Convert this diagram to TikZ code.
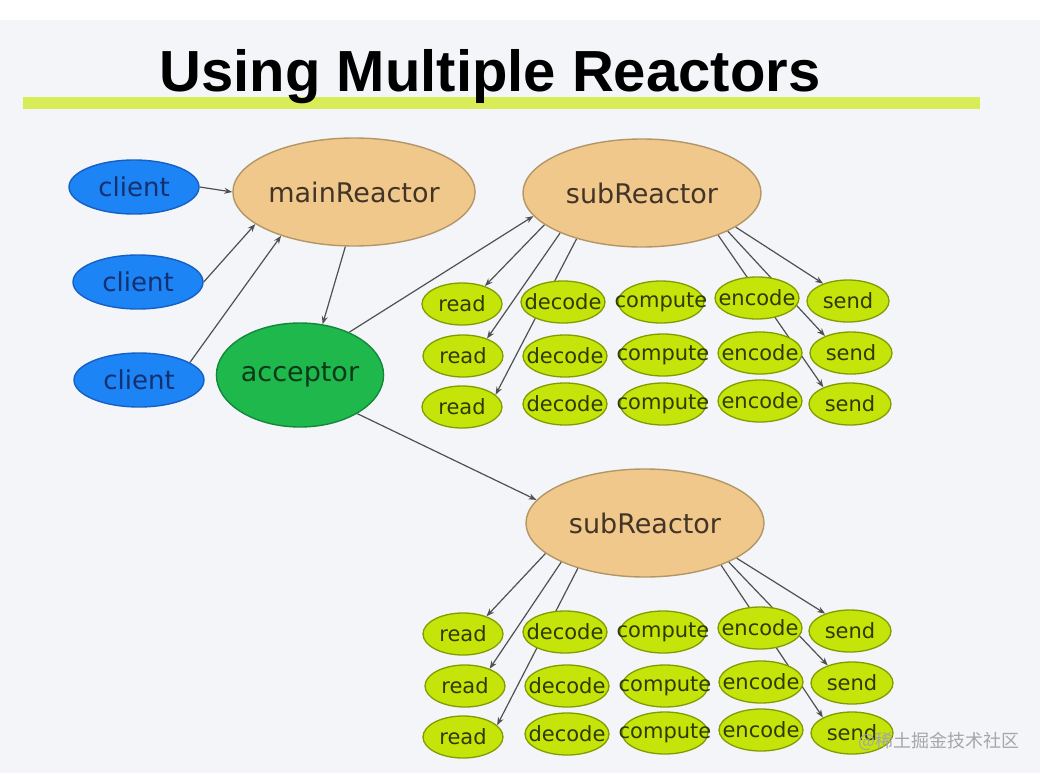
\documentclass[tikz,border=0pt]{standalone}
\usepackage{fontspec}
\setmainfont{DejaVu Sans}
\newfontfamily\titlefont{Liberation Sans}
\newfontfamily\cjkfont{Noto Sans CJK SC}
\usetikzlibrary{shapes.geometric,arrows.meta}
\pgfdeclarelayer{bg}\pgfdeclarelayer{edges}
\pgfsetlayers{bg,edges,main}
\definecolor{bgcol}{RGB}{243,245,249}
\definecolor{barcol}{RGB}{216,236,88}
\definecolor{bluefill}{RGB}{28,132,244}
\definecolor{blueline}{RGB}{22,96,196}
\definecolor{bluetext}{RGB}{20,48,110}
\definecolor{tanfill}{RGB}{240,200,140}
\definecolor{tanline}{RGB}{178,150,102}
\definecolor{tantext}{RGB}{66,52,38}
\definecolor{grnfill}{RGB}{30,184,76}
\definecolor{grnline}{RGB}{20,136,58}
\definecolor{grntext}{RGB}{12,58,24}
\definecolor{ygfill}{RGB}{196,228,10}
\definecolor{ygline}{RGB}{128,156,0}
\definecolor{ygtext}{RGB}{48,58,0}
\definecolor{arrcol}{RGB}{80,80,80}
\newcommand\zw[1]{\makebox[0pt]{#1}}
\begin{document}
\begin{tikzpicture}[x=1pt,y=-1pt,
  client/.style={ellipse,draw=blueline,line width=1.4pt,fill=bluefill,text=bluetext,
    minimum width=130pt,minimum height=54pt,inner sep=0pt,font=\fontsize{26}{30}\selectfont},
  reactor/.style={ellipse,draw=tanline,line width=1.4pt,fill=tanfill,text=tantext,
    minimum width=238pt,minimum height=108pt,inner sep=0pt,font=\fontsize{27}{31}\selectfont},
  accept/.style={ellipse,draw=grnline,line width=1.4pt,fill=grnfill,text=grntext,
    minimum width=166pt,minimum height=104pt,inner sep=0pt,font=\fontsize{27}{31}\selectfont},
  task/.style={ellipse,draw=ygline,line width=1.3pt,fill=ygfill,text=ygtext,
    minimum height=42pt,inner sep=0pt,font=\fontsize{21}{24}\selectfont},
  arr/.style={draw=arrcol,line width=1.2pt,-{Stealth[length=8pt,width=6pt]}}]
\begin{pgfonlayer}{bg}
\fill[bgcol] (0,0) rectangle (1040,773);
\fill[white] (0,0) rectangle (1040,20);
\end{pgfonlayer}
\useasboundingbox (0,0) rectangle (1040,773);
\fill[barcol] (23,97) rectangle (980,109);
\node[anchor=base,font=\titlefont\bfseries\fontsize{58}{64}\selectfont,text=black] (title) at (490,92) {Using Multiple Reactors};

\node[client] (c1) at (134,187) {client};
\node[client] (c2) at (138,282) {client};
\node[client] (c3) at (139,380) {client};
\node[reactor] (mr) at (354,192) {mainReactor};
\node[accept] (acc) at (300,375) {acceptor};
\node[reactor] (sr1) at (642,193) {subReactor};
\node[reactor] (sr2) at (645,523) {subReactor};

% top grid
\foreach \n/\x/\y in {1/462/304,2/463/356,3/462/407}
  \node[task,minimum width=80pt] (tr\n) at (\x,\y) {\zw{read}};
\foreach \n/\x/\y in {1/563/302,2/565/356,3/565/404}
  \node[task,minimum width=84pt] (td\n) at (\x,\y) {\zw{decode}};
\foreach \n/\x/\y in {1/661/302,2/663/355,3/663/404}
  \node[task,minimum width=86pt] (tc\n) at (\x,\y) {\zw{compute}};
\foreach \n/\x/\y in {1/757/298,2/760/353,3/760/401}
  \node[task,minimum width=84pt] (te\n) at (\x,\y) {\zw{encode}};
\foreach \n/\x/\y in {1/848/301,2/851/353,3/850/404}
  \node[task,minimum width=82pt] (ts\n) at (\x,\y) {\zw{send}};
% bottom grid
\foreach \n/\x/\y in {1/463/634,2/465/686,3/463/737}
  \node[task,minimum width=80pt] (br\n) at (\x,\y) {\zw{read}};
\foreach \n/\x/\y in {1/565/632,2/567/686,3/567/734}
  \node[task,minimum width=84pt] (bd\n) at (\x,\y) {\zw{decode}};
\foreach \n/\x/\y in {1/663/632,2/665/686,3/665/733}
  \node[task,minimum width=86pt] (bc\n) at (\x,\y) {\zw{compute}};
\foreach \n/\x/\y in {1/760/628,2/761/682,3/761/730}
  \node[task,minimum width=84pt] (be\n) at (\x,\y) {\zw{encode}};
\foreach \n/\x/\y in {1/850/631,2/852/683,3/852/733}
  \node[task,minimum width=82pt] (bs\n) at (\x,\y) {\zw{send}};

\node[font=\cjkfont\fontsize{18}{20}\selectfont,text=black!35] (wm) at (939,741) {@稀土掘金技术社区};

\begin{pgfonlayer}{edges}
\draw[arr] (c1.east) -- (mr.west);
\draw[arr] (c2.east) -- (mr.198);
\draw[arr] (c3.19) -- (mr.211);
\draw[arr] (mr.261) -- (acc.66);
\draw[arr] (acc.41) -- (sr1.192);
\draw[arr] (acc.326) -- (sr2.168);
\draw[arr] (sr1.198) -- (tr1.38);
\draw[arr] (sr1.206) -- (tr2.36);
\draw[arr] (sr1.215) -- (tr3.20);
\draw[arr] (sr1.340) -- (ts1.145);
\draw[arr] (sr1.336) -- (ts2.147);
\draw[arr] (sr1.331) -- (ts3.148);
\draw[arr] (sr2.197) -- (br1.37);
\draw[arr] (sr2.205) -- (br2.35);
\draw[arr] (sr2.214) -- (br3.19);
\draw[arr] (sr2.339) -- (bs1.145);
\draw[arr] (sr2.335) -- (bs2.144);
\draw[arr] (sr2.331) -- (bs3.152);
\end{pgfonlayer}
\end{tikzpicture}
\end{document}
